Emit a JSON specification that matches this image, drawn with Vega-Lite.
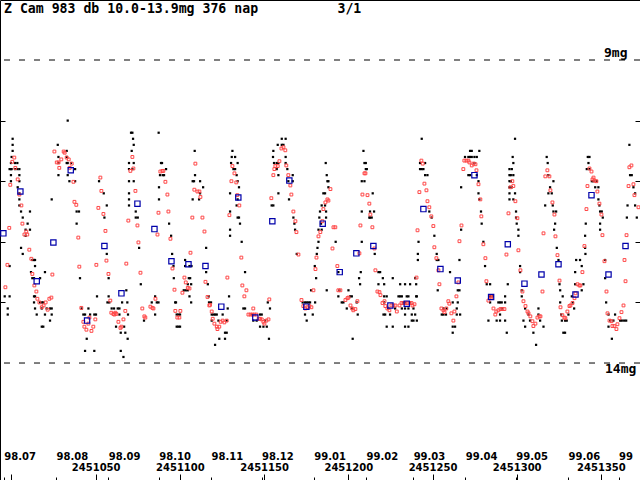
{
  "$schema": "https://vega.github.io/schema/vega-lite/v6.json",
  "width": 640,
  "height": 480,
  "autosize": "none",
  "padding": 0,
  "background": "white",
  "title": {
    "text": "Z Cam 983 db 10.0-13.9mg 376 nap\u00a0\u00a0\u00a0\u00a0\u00a0\u00a0\u00a0\u00a0\u00a0\u00a03/1",
    "anchor": "start",
    "frame": "group",
    "orient": "top",
    "offset": -12,
    "dx": 4,
    "dy": 14,
    "baseline": "alphabetic",
    "font": "DejaVu Sans Mono",
    "fontSize": 13.2,
    "fontWeight": "bold",
    "color": "black"
  },
  "config": {
    "view": {"stroke": "black", "strokeWidth": 1},
    "axis": {
      "labelFont": "DejaVu Sans",
      "labelFontSize": 10,
      "labelFontWeight": "bold",
      "labelColor": "black",
      "tickColor": "black",
      "tickWidth": 1,
      "grid": false,
      "domain": false,
      "title": null
    }
  },
  "datasets": {
    "visual": [
      {"jd":2450996.0,"mag":12.9},{"jd":2450997.8,"mag":13.1},{"jd":2450997.8,"mag":13.2},
      {"jd":2450998.9,"mag":10.8},{"jd":2450998.9,"mag":12.4},{"jd":2450998.9,"mag":12.9},
      {"jd":2450999.7,"mag":10.7},{"jd":2450999.7,"mag":10.8},{"jd":2450999.7,"mag":10.9},{"jd":2450999.7,"mag":11.0},
      {"jd":2451000.1,"mag":10.6},{"jd":2451000.1,"mag":10.8},
      {"jd":2451000.7,"mag":10.3},{"jd":2451000.7,"mag":10.4},{"jd":2451000.7,"mag":10.5},
      {"jd":2451002.1,"mag":10.7},{"jd":2451002.1,"mag":10.8},{"jd":2451003.5,"mag":10.7},{"jd":2451003.5,"mag":10.8},
      {"jd":2451003.7,"mag":11.1},
      {"jd":2451004.7,"mag":10.8},{"jd":2451004.7,"mag":10.9},{"jd":2451004.7,"mag":11.0},{"jd":2451004.7,"mag":11.2},{"jd":2451004.7,"mag":11.3},{"jd":2451004.7,"mag":11.4},
      {"jd":2451005.7,"mag":11.5},{"jd":2451005.7,"mag":12.1},{"jd":2451006.7,"mag":11.6},{"jd":2451006.7,"mag":12.2},
      {"jd":2451008.4,"mag":11.8},{"jd":2451008.4,"mag":11.9},{"jd":2451009.6,"mag":11.7},
      {"jd":2451011.0,"mag":11.5},{"jd":2451011.0,"mag":11.8},{"jd":2451011.6,"mag":12.5},
      {"jd":2451012.4,"mag":12.3},{"jd":2451012.4,"mag":12.6},
      {"jd":2451013.4,"mag":12.3},{"jd":2451013.4,"mag":12.6},{"jd":2451013.4,"mag":12.9},{"jd":2451013.4,"mag":13.0},
      {"jd":2451014.0,"mag":12.3},{"jd":2451014.0,"mag":12.4},{"jd":2451014.0,"mag":12.9},{"jd":2451014.0,"mag":13.1},
      {"jd":2451015.0,"mag":13.2},{"jd":2451017.0,"mag":12.6},{"jd":2451017.0,"mag":13.0},
      {"jd":2451018.0,"mag":13.0},{"jd":2451018.0,"mag":13.1},{"jd":2451018.0,"mag":13.4},
      {"jd":2451018.9,"mag":13.0},{"jd":2451018.9,"mag":13.4},{"jd":2451019.9,"mag":12.5},{"jd":2451019.9,"mag":13.2},
      {"jd":2451020.9,"mag":13.1},{"jd":2451022.9,"mag":13.1},{"jd":2451022.9,"mag":13.3},
      {"jd":2451023.9,"mag":11.3},{"jd":2451023.9,"mag":13.1},{"jd":2451023.9,"mag":13.2},
      {"jd":2451027.5,"mag":10.4},{"jd":2451027.9,"mag":10.6},{"jd":2451027.9,"mag":10.7},{"jd":2451027.9,"mag":10.9},
      {"jd":2451032.8,"mag":10.5},{"jd":2451032.8,"mag":10.6},{"jd":2451032.8,"mag":10.7},
      {"jd":2451033.4,"mag":10.0},{"jd":2451033.4,"mag":10.7},{"jd":2451033.4,"mag":10.9},
      {"jd":2451034.4,"mag":11.0},{"jd":2451035.4,"mag":10.7},{"jd":2451037.8,"mag":10.8},{"jd":2451037.8,"mag":11.0},
      {"jd":2451038.7,"mag":11.5},{"jd":2451038.7,"mag":11.7},{"jd":2451040.1,"mag":11.5},{"jd":2451040.7,"mag":12.6},
      {"jd":2451041.7,"mag":13.1},{"jd":2451042.7,"mag":13.2},{"jd":2451043.7,"mag":13.2},{"jd":2451043.7,"mag":13.8},
      {"jd":2451044.7,"mag":13.6},{"jd":2451045.7,"mag":13.1},{"jd":2451046.7,"mag":13.2},
      {"jd":2451049.2,"mag":13.2},{"jd":2451049.2,"mag":13.8},{"jd":2451050.2,"mag":13.2},{"jd":2451050.8,"mag":12.9},
      {"jd":2451052.0,"mag":11.0},{"jd":2451054.8,"mag":11.2},{"jd":2451055.2,"mag":11.6},
      {"jd":2451056.6,"mag":11.4},{"jd":2451056.6,"mag":12.2},{"jd":2451057.0,"mag":13.0},
      {"jd":2451057.7,"mag":12.6},{"jd":2451057.7,"mag":12.9},{"jd":2451058.1,"mag":13.0},
      {"jd":2451059.5,"mag":13.1},{"jd":2451060.9,"mag":13.1},{"jd":2451062.1,"mag":13.4},{"jd":2451063.1,"mag":13.1},
      {"jd":2451064.1,"mag":13.1},{"jd":2451064.1,"mag":13.2},{"jd":2451064.9,"mag":13.5},{"jd":2451064.9,"mag":13.8},
      {"jd":2451065.7,"mag":13.0},{"jd":2451066.5,"mag":13.9},{"jd":2451066.9,"mag":13.4},{"jd":2451067.6,"mag":13.5},
      {"jd":2451068.2,"mag":12.8},{"jd":2451068.8,"mag":13.0},{"jd":2451069.0,"mag":13.6},{"jd":2451069.2,"mag":13.2},
      {"jd":2451069.8,"mag":10.7},{"jd":2451069.8,"mag":10.8},{"jd":2451069.8,"mag":11.0},{"jd":2451069.8,"mag":11.2},{"jd":2451069.8,"mag":11.3},{"jd":2451069.8,"mag":11.4},
      {"jd":2451071.0,"mag":10.2},{"jd":2451071.4,"mag":10.5},{"jd":2451071.8,"mag":10.2},{"jd":2451071.8,"mag":10.8},
      {"jd":2451072.2,"mag":10.3},{"jd":2451072.6,"mag":10.4},{"jd":2451072.6,"mag":10.7},{"jd":2451072.6,"mag":11.0},
      {"jd":2451073.8,"mag":11.5},{"jd":2451073.8,"mag":11.6},{"jd":2451075.0,"mag":11.6},{"jd":2451075.8,"mag":12.1},
      {"jd":2451076.8,"mag":12.7},{"jd":2451078.7,"mag":13.3},{"jd":2451083.3,"mag":13.0},
      {"jd":2451085.3,"mag":12.9},{"jd":2451085.3,"mag":13.2},{"jd":2451086.3,"mag":13.0},{"jd":2451087.3,"mag":13.0},
      {"jd":2451087.4,"mag":10.2},{"jd":2451087.6,"mag":11.1},{"jd":2451087.6,"mag":11.3},{"jd":2451088.2,"mag":10.9},
      {"jd":2451088.8,"mag":10.7},{"jd":2451089.4,"mag":10.7},{"jd":2451089.8,"mag":10.9},{"jd":2451090.6,"mag":10.9},
      {"jd":2451091.8,"mag":10.8},{"jd":2451093.6,"mag":11.7},{"jd":2451094.8,"mag":11.9},{"jd":2451095.4,"mag":12.2},
      {"jd":2451096.2,"mag":12.4},{"jd":2451096.4,"mag":12.6},{"jd":2451097.2,"mag":13.0},{"jd":2451097.7,"mag":13.0},
      {"jd":2451098.1,"mag":13.2},{"jd":2451098.1,"mag":13.4},{"jd":2451099.1,"mag":13.2},{"jd":2451099.1,"mag":13.4},
      {"jd":2451100.1,"mag":13.2},{"jd":2451100.1,"mag":13.4},{"jd":2451102.3,"mag":12.8},
      {"jd":2451103.1,"mag":12.3},{"jd":2451103.1,"mag":12.4},{"jd":2451103.5,"mag":12.8},
      {"jd":2451104.7,"mag":12.8},{"jd":2451104.7,"mag":12.7},{"jd":2451105.3,"mag":12.6},
      {"jd":2451105.7,"mag":12.4},{"jd":2451105.7,"mag":12.9},{"jd":2451106.1,"mag":12.6},
      {"jd":2451106.7,"mag":13.0},{"jd":2451106.7,"mag":12.7},{"jd":2451106.9,"mag":12.4},
      {"jd":2451107.6,"mag":11.0},{"jd":2451107.6,"mag":11.3},{"jd":2451108.4,"mag":11.0},{"jd":2451108.8,"mag":10.5},
      {"jd":2451109.0,"mag":10.9},{"jd":2451111.4,"mag":11.3},{"jd":2451112.0,"mag":11.0},{"jd":2451112.0,"mag":11.2},
      {"jd":2451113.8,"mag":11.1},{"jd":2451115.6,"mag":12.1},{"jd":2451115.6,"mag":12.5},{"jd":2451116.6,"mag":12.7},
      {"jd":2451117.1,"mag":12.9},{"jd":2451117.3,"mag":13.0},
      {"jd":2451118.5,"mag":13.0},{"jd":2451118.9,"mag":13.2},{"jd":2451118.9,"mag":13.3},{"jd":2451119.9,"mag":13.2},
      {"jd":2451120.9,"mag":13.2},{"jd":2451120.9,"mag":13.7},{"jd":2451121.9,"mag":13.2},{"jd":2451122.9,"mag":13.3},
      {"jd":2451123.4,"mag":13.6},{"jd":2451125.4,"mag":13.2},{"jd":2451126.8,"mag":13.5},{"jd":2451126.8,"mag":13.6},
      {"jd":2451127.8,"mag":13.3},{"jd":2451127.8,"mag":13.5},{"jd":2451128.4,"mag":13.1},{"jd":2451129.2,"mag":12.9},
      {"jd":2451129.8,"mag":11.2},{"jd":2451129.8,"mag":11.5},{"jd":2451129.8,"mag":11.8},{"jd":2451129.8,"mag":11.9},
      {"jd":2451130.4,"mag":10.7},{"jd":2451130.8,"mag":10.6},{"jd":2451131.2,"mag":10.5},{"jd":2451131.8,"mag":10.8},
      {"jd":2451132.8,"mag":10.8},{"jd":2451132.8,"mag":10.6},{"jd":2451133.7,"mag":10.9},{"jd":2451133.7,"mag":11.4},
      {"jd":2451134.3,"mag":10.7},{"jd":2451134.3,"mag":11.0},{"jd":2451134.3,"mag":11.3},{"jd":2451134.3,"mag":11.6},
      {"jd":2451135.1,"mag":11.1},{"jd":2451135.1,"mag":11.6},{"jd":2451135.7,"mag":11.7},{"jd":2451136.7,"mag":12.0},
      {"jd":2451137.7,"mag":13.1},{"jd":2451138.7,"mag":12.5},{"jd":2451138.7,"mag":13.1},
      {"jd":2451142.7,"mag":13.2},{"jd":2451143.6,"mag":13.3},{"jd":2451145.6,"mag":13.3},
      {"jd":2451147.6,"mag":13.2},{"jd":2451147.6,"mag":13.4},{"jd":2451148.6,"mag":13.2},{"jd":2451149.6,"mag":13.4},
      {"jd":2451150.6,"mag":13.3},{"jd":2451151.6,"mag":13.4},{"jd":2451152.2,"mag":13.0},{"jd":2451152.9,"mag":13.6},
      {"jd":2451153.5,"mag":13.1},{"jd":2451154.5,"mag":11.4},{"jd":2451155.3,"mag":10.6},
      {"jd":2451155.5,"mag":11.4},{"jd":2451155.5,"mag":10.5},{"jd":2451155.9,"mag":10.7},
      {"jd":2451157.5,"mag":10.7},{"jd":2451157.5,"mag":10.8},{"jd":2451158.1,"mag":10.4},
      {"jd":2451158.5,"mag":10.7},{"jd":2451158.5,"mag":10.9},{"jd":2451158.5,"mag":11.2},
      {"jd":2451160.5,"mag":10.3},{"jd":2451160.5,"mag":10.4},{"jd":2451161.5,"mag":10.4},
      {"jd":2451162.8,"mag":10.3},{"jd":2451162.8,"mag":10.6},{"jd":2451162.8,"mag":10.7},
      {"jd":2451163.8,"mag":10.8},{"jd":2451164.4,"mag":11.0},{"jd":2451164.8,"mag":11.3},
      {"jd":2451167.0,"mag":10.9},{"jd":2451167.0,"mag":11.0},{"jd":2451167.4,"mag":11.6},{"jd":2451168.0,"mag":11.7},
      {"jd":2451168.4,"mag":11.8},{"jd":2451169.4,"mag":12.2},{"jd":2451172.9,"mag":13.0},
      {"jd":2451174.3,"mag":13.0},{"jd":2451174.3,"mag":13.2},{"jd":2451175.3,"mag":13.0},{"jd":2451175.3,"mag":13.3},
      {"jd":2451176.3,"mag":13.0},{"jd":2451177.3,"mag":13.0},{"jd":2451177.9,"mag":12.8},{"jd":2451178.9,"mag":13.2},
      {"jd":2451180.3,"mag":13.0},{"jd":2451180.9,"mag":12.6},{"jd":2451180.1,"mag":12.4},{"jd":2451181.3,"mag":12.2},
      {"jd":2451181.7,"mag":12.1},{"jd":2451182.3,"mag":12.0},{"jd":2451182.3,"mag":11.8},{"jd":2451182.8,"mag":11.6},
      {"jd":2451183.2,"mag":11.5},{"jd":2451183.8,"mag":11.7},{"jd":2451184.2,"mag":11.4},{"jd":2451184.2,"mag":11.8},
      {"jd":2451185.2,"mag":11.2},{"jd":2451186.2,"mag":11.2},{"jd":2451186.2,"mag":11.4},{"jd":2451186.6,"mag":10.7},
      {"jd":2451186.8,"mag":11.5},{"jd":2451186.8,"mag":11.6},{"jd":2451187.2,"mag":10.9},{"jd":2451187.2,"mag":12.8},
      {"jd":2451187.6,"mag":11.0},{"jd":2451188.2,"mag":11.0},{"jd":2451188.2,"mag":11.1},
      {"jd":2451192.5,"mag":12.0},{"jd":2451194.1,"mag":12.5},{"jd":2451194.1,"mag":12.9},{"jd":2451194.7,"mag":12.8},
      {"jd":2451196.1,"mag":13.0},{"jd":2451197.1,"mag":13.0},{"jd":2451199.1,"mag":13.1},{"jd":2451200.1,"mag":12.8},
      {"jd":2451201.1,"mag":12.9},{"jd":2451202.1,"mag":12.9},{"jd":2451202.1,"mag":13.1},{"jd":2451202.6,"mag":13.6},
      {"jd":2451205.0,"mag":13.0},{"jd":2451205.6,"mag":13.2},{"jd":2451206.4,"mag":12.6},{"jd":2451207.0,"mag":12.7},
      {"jd":2451207.4,"mag":12.5},{"jd":2451208.0,"mag":11.0},{"jd":2451208.0,"mag":11.5},{"jd":2451208.0,"mag":12.0},
      {"jd":2451209.0,"mag":10.5},{"jd":2451209.6,"mag":10.7},{"jd":2451209.6,"mag":11.0},
      {"jd":2451210.4,"mag":10.7},{"jd":2451210.4,"mag":10.8},{"jd":2451211.0,"mag":10.8},
      {"jd":2451212.5,"mag":11.6},{"jd":2451212.9,"mag":11.5},{"jd":2451212.9,"mag":11.6},{"jd":2451213.9,"mag":11.6},
      {"jd":2451214.5,"mag":11.2},{"jd":2451215.3,"mag":11.5},{"jd":2451215.7,"mag":12.2},
      {"jd":2451217.9,"mag":12.5},{"jd":2451217.9,"mag":12.7},{"jd":2451218.9,"mag":12.5},{"jd":2451220.5,"mag":12.6},
      {"jd":2451221.3,"mag":12.7},{"jd":2451221.3,"mag":12.9},{"jd":2451221.3,"mag":13.0},{"jd":2451220.9,"mag":13.2},
      {"jd":2451221.9,"mag":13.2},{"jd":2451222.8,"mag":12.9},{"jd":2451222.8,"mag":13.4},{"jd":2451223.8,"mag":13.1},
      {"jd":2451224.8,"mag":13.2},{"jd":2451226.4,"mag":12.6},{"jd":2451226.4,"mag":13.4},{"jd":2451227.8,"mag":13.1},
      {"jd":2451229.8,"mag":12.9},{"jd":2451230.8,"mag":12.7},{"jd":2451230.8,"mag":12.9},
      {"jd":2451231.8,"mag":12.9},{"jd":2451231.8,"mag":13.1},{"jd":2451232.7,"mag":13.0},
      {"jd":2451233.7,"mag":12.7},{"jd":2451233.7,"mag":13.0},{"jd":2451233.7,"mag":13.1},{"jd":2451233.7,"mag":13.2},{"jd":2451233.7,"mag":13.4},
      {"jd":2451234.7,"mag":12.9},{"jd":2451235.7,"mag":12.9},{"jd":2451235.7,"mag":13.1},{"jd":2451235.7,"mag":13.4},
      {"jd":2451236.7,"mag":12.7},{"jd":2451236.7,"mag":13.0},{"jd":2451237.7,"mag":13.2},{"jd":2451237.7,"mag":13.3},
      {"jd":2451238.7,"mag":13.1},{"jd":2451238.7,"mag":13.3},{"jd":2451239.7,"mag":12.6},{"jd":2451239.7,"mag":13.2},
      {"jd":2451240.3,"mag":12.7},{"jd":2451240.3,"mag":12.9},{"jd":2451240.7,"mag":12.9},{"jd":2451240.7,"mag":13.3},
      {"jd":2451241.3,"mag":12.2},{"jd":2451241.3,"mag":12.3},{"jd":2451241.7,"mag":12.0},
      {"jd":2451242.6,"mag":10.8},{"jd":2451242.6,"mag":10.7},{"jd":2451243.6,"mag":10.3},{"jd":2451243.6,"mag":10.8},
      {"jd":2451244.6,"mag":10.8},{"jd":2451245.6,"mag":10.7},{"jd":2451245.6,"mag":10.9},{"jd":2451247.0,"mag":10.9},
      {"jd":2451248.1,"mag":11.5},{"jd":2451249.5,"mag":11.6},{"jd":2451251.1,"mag":11.9},
      {"jd":2451252.5,"mag":12.2},{"jd":2451252.5,"mag":12.3},{"jd":2451253.5,"mag":12.3},{"jd":2451253.1,"mag":12.8},
      {"jd":2451255.5,"mag":13.2},{"jd":2451256.5,"mag":13.1},{"jd":2451256.5,"mag":13.2},{"jd":2451258.0,"mag":13.2},
      {"jd":2451258.4,"mag":13.1},{"jd":2451260.4,"mag":12.5},
      {"jd":2451262.0,"mag":13.0},{"jd":2451262.0,"mag":13.4},{"jd":2451262.0,"mag":13.5},{"jd":2451263.4,"mag":13.4},
      {"jd":2451264.4,"mag":13.1},{"jd":2451264.4,"mag":13.2},{"jd":2451265.0,"mag":12.8},{"jd":2451265.0,"mag":13.0},
      {"jd":2451266.0,"mag":12.8},{"jd":2451266.0,"mag":12.3},{"jd":2451266.4,"mag":13.2},
      {"jd":2451267.0,"mag":11.1},{"jd":2451267.0,"mag":11.8},{"jd":2451269.3,"mag":10.6},
      {"jd":2451271.3,"mag":10.6},{"jd":2451271.3,"mag":10.9},
      {"jd":2451272.3,"mag":10.5},{"jd":2451272.3,"mag":10.6},{"jd":2451272.3,"mag":10.9},
      {"jd":2451273.3,"mag":10.5},{"jd":2451273.3,"mag":10.6},{"jd":2451274.9,"mag":10.6},{"jd":2451274.9,"mag":10.7},
      {"jd":2451276.3,"mag":10.6},{"jd":2451276.3,"mag":10.9},{"jd":2451277.3,"mag":11.0},{"jd":2451277.3,"mag":11.2},
      {"jd":2451277.8,"mag":10.5},{"jd":2451277.8,"mag":11.3},{"jd":2451278.8,"mag":11.5},{"jd":2451279.2,"mag":11.7},
      {"jd":2451280.2,"mag":12.0},{"jd":2451281.2,"mag":12.4},{"jd":2451282.2,"mag":12.7},{"jd":2451283.2,"mag":13.3},
      {"jd":2451284.2,"mag":12.7},{"jd":2451284.2,"mag":12.9},{"jd":2451284.2,"mag":13.0},{"jd":2451285.8,"mag":12.9},
      {"jd":2451288.1,"mag":13.3},{"jd":2451289.1,"mag":13.0},
      {"jd":2451290.1,"mag":13.0},{"jd":2451290.1,"mag":13.2},{"jd":2451290.1,"mag":13.3},
      {"jd":2451291.1,"mag":13.0},{"jd":2451291.1,"mag":13.1},
      {"jd":2451293.1,"mag":12.9},{"jd":2451293.1,"mag":13.0},{"jd":2451293.1,"mag":13.3},
      {"jd":2451294.1,"mag":13.5},{"jd":2451294.7,"mag":12.7},
      {"jd":2451295.7,"mag":10.8},{"jd":2451295.7,"mag":10.9},{"jd":2451295.7,"mag":11.0},{"jd":2451295.7,"mag":11.1},{"jd":2451295.7,"mag":11.2},{"jd":2451295.7,"mag":11.3},
      {"jd":2451296.5,"mag":10.9},{"jd":2451296.5,"mag":11.0},{"jd":2451297.1,"mag":10.8},{"jd":2451297.1,"mag":11.1},
      {"jd":2451297.6,"mag":10.6},{"jd":2451298.0,"mag":10.7},{"jd":2451298.0,"mag":10.9},{"jd":2451298.0,"mag":11.3},
      {"jd":2451299.0,"mag":10.3},{"jd":2451299.0,"mag":11.2},{"jd":2451299.6,"mag":11.5},{"jd":2451299.6,"mag":11.6},
      {"jd":2451300.0,"mag":11.7},{"jd":2451301.0,"mag":11.8},{"jd":2451301.0,"mag":11.9},
      {"jd":2451302.0,"mag":12.4},{"jd":2451302.0,"mag":12.5},{"jd":2451303.0,"mag":12.8},{"jd":2451303.0,"mag":12.9},
      {"jd":2451304.0,"mag":13.3},{"jd":2451305.0,"mag":13.1},{"jd":2451305.0,"mag":13.4},{"jd":2451307.0,"mag":13.2},
      {"jd":2451307.9,"mag":13.3},{"jd":2451309.9,"mag":13.5},{"jd":2451311.5,"mag":13.7},
      {"jd":2451312.9,"mag":13.2},{"jd":2451312.9,"mag":13.1},{"jd":2451313.9,"mag":13.3},{"jd":2451315.9,"mag":13.4},
      {"jd":2451316.9,"mag":11.4},{"jd":2451317.8,"mag":10.6},{"jd":2451318.4,"mag":10.7},
      {"jd":2451318.8,"mag":10.9},{"jd":2451318.8,"mag":11.2},{"jd":2451319.8,"mag":11.1},{"jd":2451320.8,"mag":11.2},
      {"jd":2451321.4,"mag":11.4},{"jd":2451321.8,"mag":11.0},{"jd":2451321.8,"mag":11.5},{"jd":2451322.2,"mag":11.8},
      {"jd":2451322.8,"mag":11.7},{"jd":2451323.4,"mag":11.5},{"jd":2451323.8,"mag":12.1},{"jd":2451324.8,"mag":12.3},
      {"jd":2451325.4,"mag":12.7},{"jd":2451325.8,"mag":12.8},{"jd":2451325.8,"mag":13.0},{"jd":2451326.4,"mag":13.2},
      {"jd":2451326.8,"mag":13.3},{"jd":2451327.3,"mag":12.9},{"jd":2451327.7,"mag":13.5},
      {"jd":2451328.7,"mag":13.3},{"jd":2451328.7,"mag":13.5},{"jd":2451329.7,"mag":13.3},{"jd":2451330.7,"mag":13.2},
      {"jd":2451332.7,"mag":12.9},{"jd":2451333.3,"mag":13.0},{"jd":2451334.1,"mag":13.1},
      {"jd":2451334.7,"mag":12.5},{"jd":2451334.7,"mag":12.7},{"jd":2451335.3,"mag":12.3},{"jd":2451337.6,"mag":12.3},
      {"jd":2451338.6,"mag":12.4},{"jd":2451338.6,"mag":12.8},{"jd":2451339.6,"mag":12.7},
      {"jd":2451340.6,"mag":11.9},{"jd":2451340.6,"mag":12.1},{"jd":2451340.8,"mag":12.2},{"jd":2451341.0,"mag":11.7},
      {"jd":2451341.6,"mag":10.8},{"jd":2451342.2,"mag":10.6},{"jd":2451342.6,"mag":10.7},
      {"jd":2451343.2,"mag":10.6},{"jd":2451343.2,"mag":10.8},{"jd":2451344.6,"mag":11.0},{"jd":2451345.6,"mag":11.0},
      {"jd":2451346.6,"mag":11.1},{"jd":2451347.5,"mag":11.0},{"jd":2451348.5,"mag":11.1},{"jd":2451348.5,"mag":11.3},
      {"jd":2451349.1,"mag":11.4},{"jd":2451349.5,"mag":11.5},{"jd":2451349.5,"mag":11.7},{"jd":2451349.5,"mag":11.8},
      {"jd":2451350.5,"mag":11.5},{"jd":2451351.1,"mag":11.6},{"jd":2451352.5,"mag":12.6},{"jd":2451352.5,"mag":12.3},
      {"jd":2451353.1,"mag":13.0},{"jd":2451354.5,"mag":13.2},{"jd":2451354.5,"mag":13.4},{"jd":2451355.5,"mag":13.3},
      {"jd":2451356.5,"mag":13.6},{"jd":2451357.4,"mag":13.3},{"jd":2451358.4,"mag":13.2},
      {"jd":2451361.4,"mag":13.3},{"jd":2451362.4,"mag":13.3},{"jd":2451363.8,"mag":13.3},{"jd":2451365.0,"mag":13.3},
      {"jd":2451365.4,"mag":11.6},{"jd":2451365.8,"mag":11.4},{"jd":2451366.9,"mag":10.4},{"jd":2451367.3,"mag":10.9},
      {"jd":2451368.3,"mag":10.9},{"jd":2451369.3,"mag":11.1},{"jd":2451370.3,"mag":11.2},{"jd":2451370.3,"mag":11.4},
      {"jd":2451371.3,"mag":11.6}
    ],
    "red": [
      {"jd":2451001.7,"mag":10.61},{"jd":2451000.5,"mag":10.68},{"jd":2451002.3,"mag":10.78},{"jd":2450999.3,"mag":11.06},
      {"jd":2451003.7,"mag":10.97},{"jd":2451004.7,"mag":11.22},{"jd":2451005.9,"mag":11.40},{"jd":2451006.5,"mag":11.70},
      {"jd":2450998.7,"mag":11.77},{"jd":2451007.7,"mag":11.88},{"jd":2451009.4,"mag":11.88},{"jd":2451008.8,"mag":11.83},
      {"jd":2451010.6,"mag":12.13},{"jd":2451011.8,"mag":12.28},{"jd":2450997.6,"mag":12.38},{"jd":2451012.4,"mag":12.53},
      {"jd":2450996.4,"mag":12.75},{"jd":2451013.6,"mag":12.72},{"jd":2451014.8,"mag":12.82},{"jd":2451015.4,"mag":12.94},
      {"jd":2451016.6,"mag":13.00},{"jd":2451018.0,"mag":13.08},{"jd":2451019.1,"mag":13.05},{"jd":2451020.3,"mag":13.00},
      {"jd":2451021.5,"mag":13.12},{"jd":2451022.5,"mag":12.94},{"jd":2451023.7,"mag":12.92},{"jd":2451024.3,"mag":12.54},
      {"jd":2451025.5,"mag":10.51},{"jd":2451031.0,"mag":10.51},{"jd":2451031.6,"mag":10.53},{"jd":2451029.6,"mag":10.64},
      {"jd":2451026.9,"mag":10.69},{"jd":2451028.0,"mag":10.69},{"jd":2451032.8,"mag":10.61},{"jd":2451034.0,"mag":10.64},
      {"jd":2451035.8,"mag":10.71},{"jd":2451034.6,"mag":10.78},{"jd":2451028.4,"mag":10.78},{"jd":2451036.8,"mag":11.01},
      {"jd":2451037.4,"mag":11.34},{"jd":2451038.5,"mag":11.39},{"jd":2451039.7,"mag":11.93},{"jd":2451040.3,"mag":12.41},
      {"jd":2451041.5,"mag":13.09},{"jd":2451042.7,"mag":13.32},{"jd":2451043.3,"mag":13.40},{"jd":2451044.5,"mag":13.45},
      {"jd":2451045.7,"mag":13.35},{"jd":2451046.3,"mag":13.25},{"jd":2451047.5,"mag":13.47},{"jd":2451048.6,"mag":13.40},
      {"jd":2451049.8,"mag":13.28},{"jd":2451050.4,"mag":12.38},{"jd":2451051.6,"mag":11.44},{"jd":2451052.8,"mag":10.94},
      {"jd":2451053.4,"mag":11.16},{"jd":2451054.6,"mag":11.54},{"jd":2451055.8,"mag":11.82},{"jd":2451056.4,"mag":12.31},
      {"jd":2451057.6,"mag":12.53},{"jd":2451058.7,"mag":12.97},{"jd":2451059.3,"mag":13.17},{"jd":2451060.5,"mag":13.19},
      {"jd":2451061.1,"mag":13.20},{"jd":2451062.3,"mag":13.19},{"jd":2451061.7,"mag":13.17},{"jd":2451063.5,"mag":13.32},
      {"jd":2451064.7,"mag":13.42},{"jd":2451065.3,"mag":13.40},{"jd":2451066.5,"mag":13.28},{"jd":2451067.6,"mag":13.14},
      {"jd":2451068.2,"mag":12.36},{"jd":2451069.4,"mag":11.65},{"jd":2451071.8,"mag":10.60},{"jd":2451070.6,"mag":10.83},
      {"jd":2451072.4,"mag":10.79},{"jd":2451073.6,"mag":11.16},{"jd":2451074.8,"mag":11.73},{"jd":2451075.4,"mag":12.01},
      {"jd":2451076.6,"mag":12.51},{"jd":2451077.7,"mag":13.10},{"jd":2451078.9,"mag":13.23},{"jd":2451079.5,"mag":13.25},
      {"jd":2451082.5,"mag":13.07},{"jd":2451083.7,"mag":13.09},{"jd":2451084.3,"mag":13.10},{"jd":2451085.5,"mag":12.94},
      {"jd":2451086.7,"mag":11.88},{"jd":2451087.3,"mag":11.52},{"jd":2451088.4,"mag":10.84},{"jd":2451089.6,"mag":10.83},
      {"jd":2451090.2,"mag":10.83},{"jd":2451091.4,"mag":11.01},{"jd":2451092.6,"mag":11.22},{"jd":2451093.2,"mag":11.50},
      {"jd":2451094.4,"mag":11.95},{"jd":2451095.6,"mag":12.44},{"jd":2451096.8,"mag":12.79},{"jd":2451097.3,"mag":13.14},
      {"jd":2451098.5,"mag":13.25},{"jd":2451099.7,"mag":13.25},{"jd":2451100.3,"mag":13.14},{"jd":2451101.5,"mag":12.84},
      {"jd":2451102.7,"mag":12.59},{"jd":2451103.5,"mag":12.67},{"jd":2451104.7,"mag":12.76},{"jd":2451105.7,"mag":12.77},
      {"jd":2451106.3,"mag":12.18},{"jd":2451107.4,"mag":11.60},{"jd":2451108.6,"mag":11.14},{"jd":2451109.2,"mag":10.71},
      {"jd":2451110.4,"mag":11.17},{"jd":2451111.6,"mag":11.17},{"jd":2451112.2,"mag":11.26},{"jd":2451113.4,"mag":11.60},
      {"jd":2451114.6,"mag":11.83},{"jd":2451115.2,"mag":12.66},{"jd":2451116.4,"mag":12.91},{"jd":2451117.5,"mag":13.05},
      {"jd":2451117.9,"mag":13.04},{"jd":2451118.9,"mag":13.15},{"jd":2451119.5,"mag":13.27},{"jd":2451120.5,"mag":13.35},
      {"jd":2451121.9,"mag":13.40},{"jd":2451122.3,"mag":13.44},{"jd":2451123.4,"mag":13.40},{"jd":2451124.2,"mag":13.32},
      {"jd":2451125.4,"mag":13.30},{"jd":2451126.4,"mag":13.33},{"jd":2451127.8,"mag":13.30},{"jd":2451128.2,"mag":12.59},
      {"jd":2451129.4,"mag":11.56},{"jd":2451130.6,"mag":11.00},{"jd":2451131.2,"mag":10.75},{"jd":2451132.4,"mag":10.87},
      {"jd":2451133.5,"mag":11.02},{"jd":2451134.1,"mag":11.23},{"jd":2451135.3,"mag":11.40},{"jd":2451136.5,"mag":12.26},
      {"jd":2451137.1,"mag":12.72},{"jd":2451138.3,"mag":12.90},{"jd":2451139.5,"mag":12.80},{"jd":2451140.7,"mag":13.20},
      {"jd":2451141.9,"mag":13.20},{"jd":2451143.0,"mag":13.20},{"jd":2451143.6,"mag":13.10},{"jd":2451144.2,"mag":13.20},
      {"jd":2451145.4,"mag":13.20},{"jd":2451146.8,"mag":13.27},{"jd":2451147.6,"mag":13.27},{"jd":2451148.6,"mag":13.28},
      {"jd":2451149.6,"mag":13.32},{"jd":2451150.2,"mag":13.35},{"jd":2451151.4,"mag":13.30},{"jd":2451152.6,"mag":13.28},
      {"jd":2451153.1,"mag":12.95},{"jd":2451154.3,"mag":11.28},{"jd":2451155.5,"mag":10.90},{"jd":2451156.1,"mag":10.80},
      {"jd":2451156.7,"mag":10.75},{"jd":2451158.1,"mag":10.75},{"jd":2451159.1,"mag":10.67},{"jd":2451160.3,"mag":10.46},
      {"jd":2451161.5,"mag":10.44},{"jd":2451162.6,"mag":10.49},{"jd":2451163.2,"mag":10.74},{"jd":2451164.4,"mag":10.90},
      {"jd":2451165.6,"mag":11.07},{"jd":2451166.2,"mag":11.22},{"jd":2451167.4,"mag":11.50},{"jd":2451168.6,"mag":11.66},
      {"jd":2451169.2,"mag":11.84},{"jd":2451170.4,"mag":12.21},{"jd":2451172.2,"mag":12.96},{"jd":2451173.3,"mag":13.06},
      {"jd":2451174.5,"mag":13.10},{"jd":2451175.7,"mag":13.08},{"jd":2451176.9,"mag":13.06},{"jd":2451178.1,"mag":13.08},
      {"jd":2451179.3,"mag":12.80},{"jd":2451180.5,"mag":12.45},{"jd":2451181.1,"mag":12.26},{"jd":2451182.3,"mag":11.91},
      {"jd":2451183.4,"mag":11.84},{"jd":2451184.6,"mag":11.66},{"jd":2451185.2,"mag":11.46},{"jd":2451186.4,"mag":11.35},
      {"jd":2451187.6,"mag":11.30},{"jd":2451188.2,"mag":11.32},{"jd":2451189.4,"mag":11.13},{"jd":2451190.6,"mag":12.11},
      {"jd":2451191.2,"mag":11.76},{"jd":2451192.3,"mag":11.76},{"jd":2451193.5,"mag":12.40},{"jd":2451194.1,"mag":12.80},
      {"jd":2451195.3,"mag":12.80},{"jd":2451198.3,"mag":12.96},{"jd":2451199.5,"mag":12.93},{"jd":2451200.1,"mag":12.92},
      {"jd":2451201.3,"mag":13.05},{"jd":2451202.4,"mag":13.10},{"jd":2451203.0,"mag":13.13},{"jd":2451204.2,"mag":13.11},
      {"jd":2451205.4,"mag":12.98},{"jd":2451206.6,"mag":12.19},{"jd":2451207.2,"mag":11.73},{"jd":2451208.4,"mag":11.22},
      {"jd":2451209.6,"mag":10.87},{"jd":2451210.2,"mag":10.87},{"jd":2451211.4,"mag":11.23},{"jd":2451212.5,"mag":11.37},
      {"jd":2451213.1,"mag":11.55},{"jd":2451214.3,"mag":11.76},{"jd":2451215.5,"mag":12.11},{"jd":2451216.1,"mag":12.47},
      {"jd":2451217.3,"mag":12.82},{"jd":2451218.5,"mag":12.83},{"jd":2451219.1,"mag":12.88},{"jd":2451220.3,"mag":13.01},
      {"jd":2451221.5,"mag":12.98},{"jd":2451222.0,"mag":13.06},{"jd":2451223.2,"mag":13.10},{"jd":2451224.4,"mag":13.13},
      {"jd":2451225.6,"mag":13.05},{"jd":2451226.8,"mag":13.05},{"jd":2451228.0,"mag":13.05},{"jd":2451228.8,"mag":13.15},
      {"jd":2451230.4,"mag":13.05},{"jd":2451231.6,"mag":13.01},{"jd":2451232.7,"mag":13.01},{"jd":2451233.9,"mag":13.01},
      {"jd":2451235.1,"mag":13.01},{"jd":2451236.3,"mag":13.01},{"jd":2451237.5,"mag":13.01},{"jd":2451238.1,"mag":13.05},
      {"jd":2451239.3,"mag":13.03},{"jd":2451240.5,"mag":12.59},{"jd":2451241.1,"mag":11.81},{"jd":2451242.2,"mag":11.18},
      {"jd":2451243.4,"mag":10.66},{"jd":2451244.2,"mag":10.71},{"jd":2451245.2,"mag":11.04},{"jd":2451246.4,"mag":11.15},
      {"jd":2451247.0,"mag":11.33},{"jd":2451248.1,"mag":11.43},{"jd":2451249.3,"mag":11.58},{"jd":2451250.5,"mag":11.74},
      {"jd":2451251.1,"mag":12.09},{"jd":2451252.3,"mag":12.27},{"jd":2451253.5,"mag":12.47},{"jd":2451254.1,"mag":12.70},
      {"jd":2451255.3,"mag":13.10},{"jd":2451256.5,"mag":13.13},{"jd":2451257.1,"mag":13.16},{"jd":2451258.2,"mag":13.10},
      {"jd":2451259.4,"mag":12.98},{"jd":2451260.0,"mag":13.02},{"jd":2451261.2,"mag":13.18},{"jd":2451262.4,"mag":13.30},
      {"jd":2451263.0,"mag":13.15},{"jd":2451264.2,"mag":12.90},{"jd":2451265.4,"mag":12.67},{"jd":2451266.0,"mag":11.99},
      {"jd":2451267.2,"mag":11.73},{"jd":2451268.3,"mag":10.80},{"jd":2451268.9,"mag":10.66},{"jd":2451270.1,"mag":10.66},
      {"jd":2451271.3,"mag":10.66},{"jd":2451271.9,"mag":10.69},{"jd":2451273.3,"mag":10.74},{"jd":2451274.3,"mag":10.71},
      {"jd":2451275.5,"mag":10.72},{"jd":2451276.1,"mag":10.82},{"jd":2451277.3,"mag":11.05},{"jd":2451278.4,"mag":11.30},
      {"jd":2451279.0,"mag":11.58},{"jd":2451280.2,"mag":12.04},{"jd":2451281.4,"mag":12.27},{"jd":2451282.0,"mag":12.65},
      {"jd":2451283.2,"mag":12.97},{"jd":2451284.4,"mag":12.90},{"jd":2451285.0,"mag":12.92},{"jd":2451286.2,"mag":13.10},
      {"jd":2451287.3,"mag":13.20},{"jd":2451287.9,"mag":13.15},{"jd":2451289.1,"mag":13.13},{"jd":2451290.3,"mag":13.11},
      {"jd":2451291.5,"mag":13.11},{"jd":2451292.7,"mag":13.11},{"jd":2451293.9,"mag":12.21},{"jd":2451295.1,"mag":11.53},
      {"jd":2451296.3,"mag":11.10},{"jd":2451297.4,"mag":11.00},{"jd":2451298.0,"mag":11.08},{"jd":2451299.2,"mag":11.33},
      {"jd":2451300.4,"mag":11.61},{"jd":2451301.0,"mag":12.14},{"jd":2451302.2,"mag":12.47},{"jd":2451303.4,"mag":12.82},
      {"jd":2451304.0,"mag":12.98},{"jd":2451305.2,"mag":13.06},{"jd":2451306.4,"mag":13.15},{"jd":2451307.0,"mag":13.18},
      {"jd":2451308.1,"mag":13.23},{"jd":2451309.3,"mag":13.31},{"jd":2451309.9,"mag":13.39},{"jd":2451311.1,"mag":13.35},
      {"jd":2451312.3,"mag":13.25},{"jd":2451313.5,"mag":13.23},{"jd":2451314.1,"mag":13.23},{"jd":2451315.3,"mag":12.82},
      {"jd":2451315.9,"mag":11.86},{"jd":2451317.0,"mag":10.92},{"jd":2451318.2,"mag":10.82},{"jd":2451319.4,"mag":10.92},
      {"jd":2451320.0,"mag":11.15},{"jd":2451321.2,"mag":11.35},{"jd":2451322.4,"mag":11.55},{"jd":2451323.0,"mag":11.91},
      {"jd":2451324.2,"mag":12.22},{"jd":2451325.4,"mag":12.64},{"jd":2451326.0,"mag":13.08},{"jd":2451327.1,"mag":13.21},
      {"jd":2451328.3,"mag":13.25},{"jd":2451328.9,"mag":13.26},{"jd":2451330.1,"mag":13.15},{"jd":2451331.3,"mag":13.06},
      {"jd":2451331.9,"mag":13.05},{"jd":2451333.1,"mag":13.01},{"jd":2451334.3,"mag":12.93},{"jd":2451334.9,"mag":12.85},
      {"jd":2451336.1,"mag":12.70},{"jd":2451337.2,"mag":12.72},{"jd":2451337.8,"mag":12.72},{"jd":2451339.0,"mag":12.50},
      {"jd":2451340.2,"mag":12.07},{"jd":2451341.4,"mag":11.46},{"jd":2451342.0,"mag":11.08},{"jd":2451343.2,"mag":10.79},
      {"jd":2451344.4,"mag":10.84},{"jd":2451345.0,"mag":10.97},{"jd":2451345.6,"mag":10.94},{"jd":2451346.2,"mag":10.99},
      {"jd":2451347.3,"mag":11.00},{"jd":2451347.9,"mag":11.17},{"jd":2451349.1,"mag":11.37},{"jd":2451350.3,"mag":11.55},
      {"jd":2451350.9,"mag":11.89},{"jd":2451352.1,"mag":12.32},{"jd":2451353.3,"mag":12.82},{"jd":2451353.9,"mag":13.18},
      {"jd":2451355.1,"mag":13.30},{"jd":2451356.3,"mag":13.31},{"jd":2451356.8,"mag":13.39},{"jd":2451358.0,"mag":13.39},
      {"jd":2451359.2,"mag":13.44},{"jd":2451359.8,"mag":13.36},{"jd":2451361.0,"mag":13.26},{"jd":2451362.2,"mag":13.16},
      {"jd":2451363.4,"mag":13.05},{"jd":2451364.0,"mag":12.30},{"jd":2451364.6,"mag":12.65},{"jd":2451365.2,"mag":11.89},
      {"jd":2451366.4,"mag":11.08},{"jd":2451366.9,"mag":10.77},{"jd":2451368.1,"mag":10.74},{"jd":2451369.3,"mag":11.05},
      {"jd":2451369.9,"mag":11.23},{"jd":2451372.3,"mag":11.43}
    ],
    "blue": [
      {"jd":2450995.2,"mag":11.86},{"jd":2451005.3,"mag":11.17},{"jd":2451015.0,"mag":12.65},{"jd":2451024.9,"mag":12.01},
      {"jd":2451035.2,"mag":10.82},{"jd":2451044.9,"mag":13.30},{"jd":2451055.2,"mag":12.07},{"jd":2451065.3,"mag":12.85},
      {"jd":2451074.8,"mag":11.37},{"jd":2451084.9,"mag":11.79},{"jd":2451095.0,"mag":12.32},{"jd":2451105.1,"mag":12.37},
      {"jd":2451115.2,"mag":12.40},{"jd":2451124.6,"mag":13.07},{"jd":2451134.7,"mag":11.27},{"jd":2451144.8,"mag":13.25},
      {"jd":2451154.9,"mag":11.66},{"jd":2451165.0,"mag":10.99},{"jd":2451175.1,"mag":13.07},{"jd":2451184.8,"mag":11.70},
      {"jd":2451194.9,"mag":12.50},{"jd":2451204.8,"mag":12.19},{"jd":2451214.9,"mag":12.07},{"jd":2451225.0,"mag":13.05},
      {"jd":2451234.7,"mag":13.02},{"jd":2451244.6,"mag":11.46},{"jd":2451254.7,"mag":12.45},{"jd":2451265.0,"mag":12.64},
      {"jd":2451274.9,"mag":10.90},{"jd":2451284.8,"mag":12.91},{"jd":2451294.7,"mag":12.04},{"jd":2451304.6,"mag":12.69},
      {"jd":2451314.7,"mag":12.54},{"jd":2451324.8,"mag":12.37},{"jd":2451334.9,"mag":12.87},{"jd":2451344.4,"mag":11.23},
      {"jd":2451354.5,"mag":12.54},{"jd":2451364.6,"mag":12.07}
    ],
    "limits": [
      {"mag": 9, "label": "9mg"},
      {"mag": 14, "label": "14mg"}
    ]
  },
  "resolve": {"axis": {"x": "independent", "y": "independent"}},
  "layer": [
    {
      "data": {"name": "limits"},
      "mark": {"type": "rule", "color": "black", "strokeWidth": 1, "strokeDash": [6, 9]},
      "encoding": {
        "y": {"field": "mag", "type": "quantitative", "axis": null,
              "scale": {"domain": [8.01, 15.93], "reverse": true, "nice": false, "zero": false}}
      }
    },
    {
      "data": {"name": "visual"},
      "mark": {"type": "square", "size": 5, "color": "black", "opacity": 1},
      "encoding": {
        "x": {
          "field": "jd", "type": "quantitative",
          "scale": {"domain": [2450993.2, 2451373.2], "nice": false, "zero": false},
          "axis": {
            "orient": "bottom", "offset": -6, "tickSize": 6,
            "values": [2451000, 2451050, 2451100, 2451150, 2451200, 2451250, 2451300, 2451350],
            "format": "d",
            "labelExpr": "datum.value == 2451000 ? '' : datum.label",
            "labelBaseline": "top", "labelPadding": -18,
            "labelFlush": false, "labelOverlap": false, "labelBound": false
          }
        },
        "y": {
          "field": "mag", "type": "quantitative",
          "scale": {"domain": [8.01, 15.93], "reverse": true, "nice": false, "zero": false},
          "axis": {"orient": "left", "offset": -5, "tickSize": 5, "values": [10, 11, 12, 13], "labels": false}
        }
      }
    },
    {
      "data": {"name": "red"},
      "mark": {"type": "square", "size": 8, "filled": false, "stroke": "#ff4848", "strokeWidth": 1, "opacity": 1},
      "encoding": {
        "x": {
          "field": "jd", "type": "quantitative",
          "axis": {
            "orient": "bottom", "offset": -3, "tickSize": 3,
            "values": [2450995.5, 2451026.5, 2451057.5, 2451087.5, 2451118.5, 2451148.5, 2451179.5, 2451210.5, 2451238.5, 2451269.5, 2451299.5, 2451330.5, 2451360.5],
            "labelExpr": "utcFormat((datum.value - 2440587.5) * 86400000, datum.value > 2451350 ? '%y' : '%y.%m')",
            "labelAlign": "left", "labelBaseline": "top", "labelPadding": -29,
            "labelFlush": false, "labelOverlap": false, "labelBound": false
          }
        },
        "y": {
          "field": "mag", "type": "quantitative",
          "axis": {"orient": "right", "offset": -5, "tickSize": 5, "values": [10, 11, 12, 13], "labels": false}
        }
      }
    },
    {
      "data": {"name": "blue"},
      "mark": {"type": "square", "size": 28, "filled": false, "stroke": "#0000aa", "strokeWidth": 1.2, "opacity": 1},
      "encoding": {
        "x": {"field": "jd", "type": "quantitative", "axis": null},
        "y": {"field": "mag", "type": "quantitative", "axis": null}
      }
    },
    {
      "data": {"name": "limits"},
      "transform": [{"filter": "datum.mag < 10"}],
      "mark": {"type": "text", "align": "left", "baseline": "alphabetic", "dx": -36, "dy": -3,
               "font": "DejaVu Sans Mono", "fontSize": 13, "fontWeight": "bold", "color": "black"},
      "encoding": {
        "x": {"value": "width"},
        "y": {"field": "mag", "type": "quantitative", "axis": null},
        "text": {"field": "label"}
      }
    },
    {
      "data": {"name": "limits"},
      "transform": [{"filter": "datum.mag > 13"}],
      "mark": {"type": "text", "align": "left", "baseline": "alphabetic", "dx": -35, "dy": 10,
               "font": "DejaVu Sans Mono", "fontSize": 13, "fontWeight": "bold", "color": "black"},
      "encoding": {
        "x": {"value": "width"},
        "y": {"field": "mag", "type": "quantitative", "axis": null},
        "text": {"field": "label"}
      }
    }
  ]
}
